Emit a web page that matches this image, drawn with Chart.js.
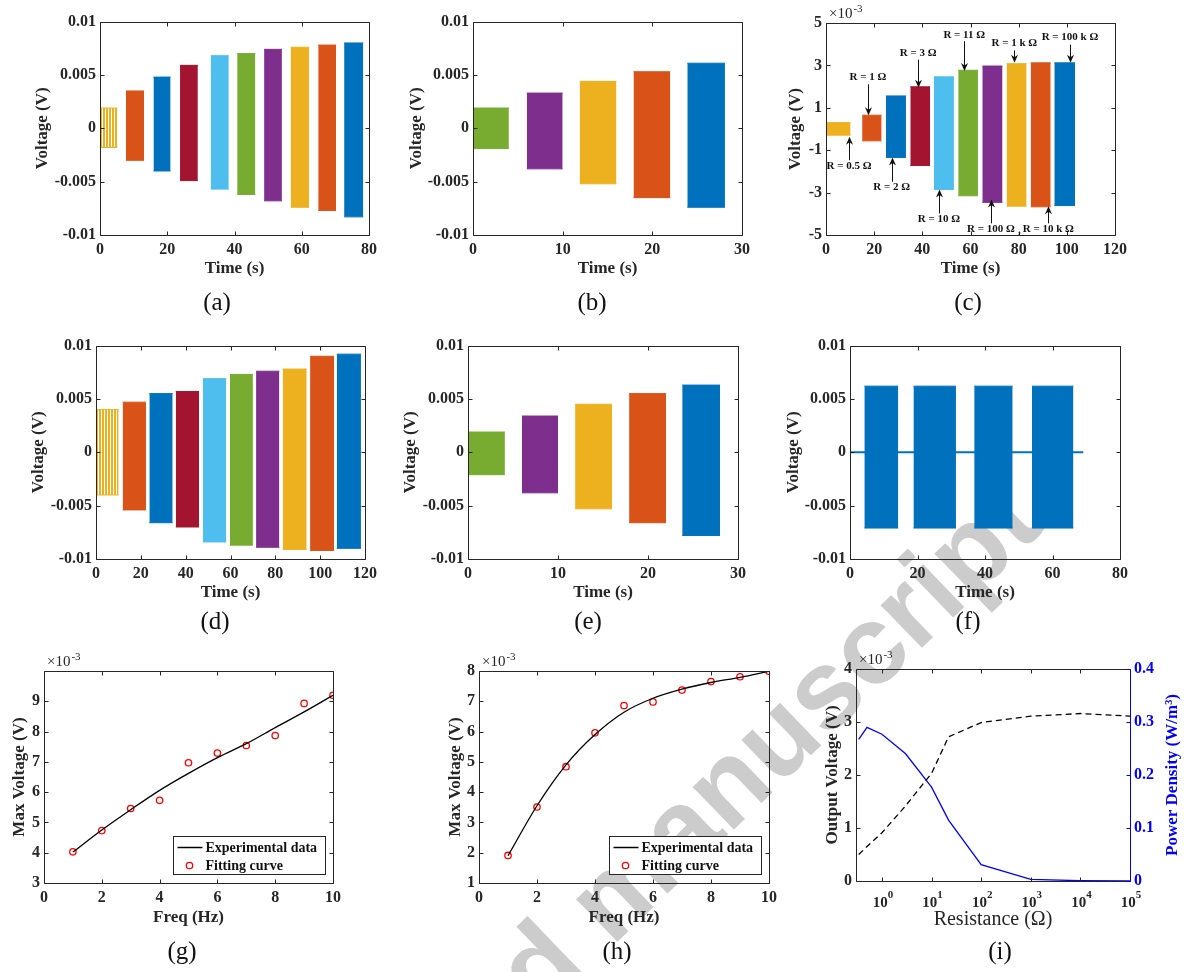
<!DOCTYPE html>
<html lang="en">
<head>
<meta charset="UTF-8">
<title>Output voltage figure</title>
<script src="https://cdn.jsdelivr.net/npm/chart.js"></script>
<style>
  body { margin: 0; background: #fff; }
  #fig { position: relative; width: 1188px; height: 972px; overflow: hidden; background: #fff; }
  #fig canvas { position: absolute; }
  .sub { position: absolute; font-family: 'Liberation Serif', serif; font-size: 25px; color: #111; transform: translate(-50%, -50%); }
</style>
</head>
<body>
<div id="fig">
  <canvas id="wm" width="1188" height="972" style="left:0;top:0"></canvas>
  <canvas id="ca"></canvas><canvas id="cb"></canvas><canvas id="cc"></canvas>
  <canvas id="cd"></canvas><canvas id="ce"></canvas><canvas id="cf"></canvas>
  <canvas id="cg"></canvas><canvas id="ch"></canvas><canvas id="ci"></canvas>
  <div class="sub" style="left:217px;top:302px">(a)</div>
  <div class="sub" style="left:592px;top:302px">(b)</div>
  <div class="sub" style="left:968px;top:302px">(c)</div>
  <div class="sub" style="left:215px;top:621px">(d)</div>
  <div class="sub" style="left:588px;top:621px">(e)</div>
  <div class="sub" style="left:968px;top:621px">(f)</div>
  <div class="sub" style="left:182px;top:951px">(g)</div>
  <div class="sub" style="left:617px;top:951px">(h)</div>
  <div class="sub" style="left:1000px;top:951px">(i)</div>
</div>
<script>
// ---- data ----
// (a) bursts: start/end time (s), max/min voltage (V)
const aStart = [0, 7.7, 15.9, 23.8, 32.9, 40.8, 48.8, 56.7, 64.9, 72.6];
const aEnd   = [5.1, 13.1, 21.0, 29.1, 38.3, 46.2, 54.1, 62.2, 70.2, 78.3];
const aMax   = [0.0019, 0.0035, 0.0048, 0.0059, 0.0068, 0.0070, 0.0074, 0.0076, 0.0078, 0.0080];
const aMin   = [-0.0018, -0.0030, -0.0040, -0.0049, -0.0057, -0.0062, -0.0068, -0.0074, -0.0077, -0.0083];

// (b)
const bStart = [0, 6.0, 11.9, 17.9, 23.9];
const bEnd   = [4.0, 10.0, 16.0, 22.0, 28.1];
const bMax   = [0.0019, 0.0033, 0.0044, 0.0053, 0.0061];
const bMin   = [-0.0019, -0.0038, -0.0052, -0.0065, -0.0074];

// (c) values in units of 1e-3 V
const cStart = [0, 15, 24.9, 35, 44.8, 54.9, 64.9, 75, 85, 94.8];
const cEnd   = [10.2, 23.1, 33.2, 43.2, 53.1, 63.1, 73.3, 83.3, 93.3, 103.4];
const cMax   = [0.30, 0.65, 1.56, 1.99, 2.46, 2.77, 2.97, 3.08, 3.12, 3.12];
const cMin   = [-0.29, -0.56, -1.34, -1.72, -2.85, -3.15, -3.46, -3.64, -3.67, -3.61];
const cNotes = ['R = 0.5 Ω', 'R = 1 Ω', 'R = 2 Ω', 'R = 3 Ω', 'R = 10 Ω', 'R = 11 Ω', 'R = 100 Ω', 'R = 1 k Ω', 'R = 10 k Ω', 'R = 100 k Ω', ','];
const cNoteT = [9.6, 17.4, 27.3, 38.3, 46.9, 57.4, 68.5, 78.2, 92.3, 101.3, 80.3];
const cNoteV = [-1.73, 2.43, -2.76, 3.60, -4.25, 4.45, -4.73, 4.03, -4.73, 4.34, -4.80];
const cArrowT = [9.7, 17.4, 27.3, 38.3, 46.9, 57.4, 68.5, 78.2, 92.3, 101.3, null];
const cTailV = [-1.47, 2.11, -2.49, 3.27, -3.98, 4.14, -4.45, 3.71, -4.45, 3.98, null];
const cTipV  = [-0.37, 0.65, -1.34, 1.95, -2.85, 2.74, -3.32, 3.12, -3.64, 3.12, null];

// (d)
const dStart = [0, 11.9, 23.8, 35.6, 47.7, 59.7, 71.4, 83.3, 95.5, 107.4];
const dEnd   = [10.1, 22.3, 34.2, 46.0, 58.1, 70.0, 81.8, 94.0, 106.2, 118.2];
const dMax   = [0.0040, 0.0047, 0.0055, 0.0057, 0.0069, 0.0073, 0.0076, 0.0078, 0.0090, 0.0092];
const dMin   = [-0.0040, -0.0054, -0.0066, -0.0070, -0.0084, -0.0087, -0.0089, -0.0091, -0.0092, -0.0090];

// (e)
const eStart = [0, 6.0, 11.9, 17.9, 23.8];
const eEnd   = [4.1, 10.0, 16.0, 22.0, 28.0];
const eMax   = [0.0019, 0.0034, 0.0045, 0.0055, 0.0063];
const eMin   = [-0.0021, -0.0038, -0.0053, -0.0066, -0.0078];

// (f)
const fStart = [4.25, 18.8, 36.8, 53.9];
const fEnd   = [14.3, 31.4, 48.2, 66.2];
const fMax   = [0.0062, 0.0062, 0.0062, 0.0062];
const fMin   = [-0.0071, -0.0071, -0.0071, -0.0071];
const fBaseT = [0, 69.1];
const fBaseV = [0, 0];

// (g) and (h), units of 1e-3 V
const freq = [1, 2, 3, 4, 5, 6, 7, 8, 9, 10];
const gLine   = [4.02, 4.75, 5.42, 6.06, 6.62, 7.14, 7.60, 8.13, 8.65, 9.20];
const gCircle = [4.03, 4.73, 5.46, 5.73, 6.97, 7.29, 7.54, 7.87, 8.93, 9.20];
const hLine   = [1.90, 3.55, 4.90, 5.90, 6.64, 7.10, 7.40, 7.62, 7.79, 7.99];
const hCircle = [1.91, 3.51, 4.84, 5.96, 6.86, 6.98, 7.37, 7.65, 7.81, 7.99];

// (i)
const resistance = [0.34, 0.5, 1, 3, 10, 22, 100, 1000, 10000, 100000];
const outVoltage = [0.50, 0.65, 0.91, 1.42, 2.03, 2.72, 2.99, 3.11, 3.16, 3.11];
const powerDens  = [0.267, 0.290, 0.277, 0.240, 0.177, 0.115, 0.031, 0.003, 0.0006, 0];

// tick values
const tTicks80 = [0, 20, 40, 60, 80];
const tTicks30 = [0, 10, 20, 30];
const tTicks120 = [0, 20, 40, 60, 80, 100, 120];
const vTicks = [-0.01, -0.005, 0, 0.005, 0.01];
const cTicks = [-5, -3, -1, 1, 3, 5];
const fTicks = [0, 2, 4, 6, 8, 10];
const gTicks = [3, 4, 5, 6, 7, 8, 9];
const hTicks = [1, 2, 3, 4, 5, 6, 7, 8];
const rTicks = [1, 10, 100, 1000, 10000, 100000];
const ivTicks = [0, 1, 2, 3, 4];
const ipTicks = [0, 0.1, 0.2, 0.3, 0.4];

// ---- styles ----
const M = { blue: '#0072BD', orange: '#D95319', yellow: '#EDB120', purple: '#7E2F8E',
            green: '#77AC30', cyan: '#4DBEEE', red: '#A2142F' };
const INK = '#262626';
const SERIF = "'Liberation Serif', 'Times New Roman', serif";

Chart.defaults.font.family = SERIF;
Chart.defaults.font.size = 16;
Chart.defaults.font.weight = 'bold';
Chart.defaults.color = INK;

function stripes(color) {
  const c = document.createElement('canvas');
  c.width = 3; c.height = 4;
  const g = c.getContext('2d');
  g.fillStyle = color;
  g.fillRect(0, 0, 2, 4);
  return g.createPattern(c, 'repeat');
}

const tenColors = [stripes(M.yellow), M.orange, M.blue, M.red, M.cyan, M.green, M.purple, M.yellow, M.orange, M.blue];
const cColors = [M.yellow, M.orange, M.blue, M.red, M.cyan, M.green, M.purple, M.yellow, M.orange, M.blue];
const fiveColors = [M.green, M.purple, M.yellow, M.orange, M.blue];

function bursts(start, end, max, min, colors) {
  const ds = [];
  start.forEach((s, i) => {
    const col = colors[i];
    const edge = typeof col === 'string' ? col : M.yellow;
    ds.push({ data: [{ x: s, y: max[i] }, { x: end[i], y: max[i] }], borderColor: edge, borderWidth: 1,
              pointRadius: 0, backgroundColor: col, fill: '+1' });
    ds.push({ data: [{ x: s, y: min[i] }, { x: end[i], y: min[i] }], borderColor: edge, borderWidth: 1,
              pointRadius: 0, fill: false });
  });
  return ds;
}

const fmt = v => String(+(+v).toFixed(4));

function axis(pos, min, max, ticks, title, size, extra) {
  const horiz = pos === 'bottom';
  const a = {
    type: 'linear', position: pos, min, max,
    afterBuildTicks: s => { s.ticks = ticks.map(v => ({ value: v })); },
    afterFit: s => { if (horiz) s.height = size; else s.width = size; },
    grid: { display: false, drawTicks: false },
    border: { display: false },
    ticks: { padding: horiz ? 5 : 4, autoSkip: false, maxRotation: 0, minRotation: 0, callback: fmt },
    title: title ? { display: true, text: title, font: { size: 17, weight: 'bold' }, padding: { top: 4, bottom: 4 } }
                 : { display: false }
  };
  return Object.assign(a, extra || {});
}

// ---- plugins ----
const matlabBox = {
  id: 'matlabBox',
  afterDatasetsDraw(chart) {
    const { ctx, chartArea: a, scales } = chart;
    const L = Math.round(a.left) + 0.5, R = Math.round(a.right) + 0.5;
    const T = Math.round(a.top) + 0.5, B = Math.round(a.bottom) + 0.5;
    const len = 4;
    ctx.save();
    ctx.lineWidth = 1;
    ctx.strokeStyle = INK;
    ctx.beginPath();
    scales.x.ticks.forEach(t => {
      const p = Math.round(scales.x.getPixelForValue(t.value)) + 0.5;
      ctx.moveTo(p, B); ctx.lineTo(p, B - len);
      ctx.moveTo(p, T); ctx.lineTo(p, T + len);
    });
    scales.y.ticks.forEach(t => {
      const p = Math.round(scales.y.getPixelForValue(t.value)) + 0.5;
      ctx.moveTo(L, p); ctx.lineTo(L + len, p);
      if (!scales.y2) { ctx.moveTo(R, p); ctx.lineTo(R - len, p); }
    });
    ctx.moveTo(R, B); ctx.lineTo(L, B); ctx.lineTo(L, T); ctx.lineTo(R, T);
    if (!scales.y2) ctx.lineTo(R, B);
    ctx.stroke();
    if (scales.y2) {
      ctx.strokeStyle = scales.y2.options.ticks.color;
      ctx.beginPath();
      ctx.moveTo(R, T); ctx.lineTo(R, B);
      scales.y2.ticks.forEach(t => {
        const p = Math.round(scales.y2.getPixelForValue(t.value)) + 0.5;
        ctx.moveTo(R, p); ctx.lineTo(R - len, p);
      });
      ctx.stroke();
    }
    ctx.restore();
  }
};

const exponent = {
  id: 'exponent',
  afterDraw(chart, args, o) {
    if (!o || !o.power) return;
    const { ctx, chartArea: a } = chart;
    ctx.save();
    ctx.fillStyle = INK;
    ctx.textBaseline = 'alphabetic';
    ctx.font = 'normal 15px ' + SERIF;
    const x = a.left + 3, y = a.top - 5;
    ctx.fillText('×10', x, y);
    const w = ctx.measureText('×10').width;
    ctx.font = 'normal 11px ' + SERIF;
    ctx.fillText(o.power, x + w + 1, y - 6);
    ctx.restore();
  }
};

// decade labels 10^n for the log axis, drawn at the scale's own tick pixels
const powTicks = {
  id: 'powTicks',
  afterDraw(chart, args, o) {
    if (!o || !o.base) return;
    const { ctx, chartArea: a, scales: { x } } = chart;
    ctx.save();
    ctx.fillStyle = INK;
    ctx.textBaseline = 'alphabetic';
    x.ticks.forEach(t => {
      const p = x.getPixelForValue(t.value);
      const e = String(Math.round(Math.log10(t.value)));
      ctx.font = 'bold 15px ' + SERIF;
      const w1 = ctx.measureText(o.base).width;
      ctx.font = 'bold 11px ' + SERIF;
      const w2 = ctx.measureText(e).width;
      const x0 = p - (w1 + w2) / 2 + 1;
      ctx.font = 'bold 15px ' + SERIF;
      ctx.fillText(o.base, x0, a.bottom + 26);
      ctx.font = 'bold 11px ' + SERIF;
      ctx.fillText(e, x0 + w1, a.bottom + 17);
    });
    ctx.restore();
  }
};

const boxLegend = {
  id: 'boxLegend',
  afterDraw(chart, args, o) {
    if (!o || !o.width) return;
    const { ctx, chartArea: a } = chart;
    const x = Math.round(a.right - o.right - o.width) + 0.5;
    const y = Math.round(a.bottom - o.bottom - o.height) + 0.5;
    ctx.save();
    ctx.fillStyle = '#fff';
    ctx.fillRect(x, y, o.width, o.height);
    ctx.strokeStyle = INK;
    ctx.lineWidth = 1;
    ctx.strokeRect(x, y, o.width, o.height);
    ctx.font = 'bold 14px ' + SERIF;
    ctx.textBaseline = 'middle';
    chart.data.datasets.forEach((d, i) => {
      const cy = y + 11 + i * 18;
      if (d.showLine === false) {
        ctx.strokeStyle = d.borderColor;
        ctx.lineWidth = 1.3;
        ctx.beginPath(); ctx.arc(x + 16, cy, 3.2, 0, Math.PI * 2); ctx.stroke();
      } else {
        ctx.strokeStyle = d.borderColor;
        ctx.lineWidth = 1.5;
        ctx.beginPath(); ctx.moveTo(x + 4, cy); ctx.lineTo(x + 29, cy); ctx.stroke();
      }
      ctx.fillStyle = '#111';
      ctx.fillText(d.label, x + 32, cy + 1);
    });
    ctx.restore();
  }
};

const arrowNotes = {
  id: 'arrowNotes',
  afterDatasetsDraw(chart, args, o) {
    if (!o || !o.text) return;
    const { ctx, scales: { x, y } } = chart;
    ctx.save();
    ctx.fillStyle = '#111';
    ctx.strokeStyle = '#111';
    ctx.lineWidth = 1;
    ctx.font = 'bold 11px ' + SERIF;
    ctx.textAlign = 'center';
    ctx.textBaseline = 'middle';
    o.text.forEach((t, i) => {
      ctx.fillText(t, x.getPixelForValue(o.textT[i]), y.getPixelForValue(o.textV[i]));
      if (o.arrowT[i] == null) return;
      const ax = Math.round(x.getPixelForValue(o.arrowT[i])) + 0.5;
      const y0 = y.getPixelForValue(o.tailV[i]), y1 = y.getPixelForValue(o.tipV[i]);
      const dir = Math.sign(y1 - y0);
      ctx.beginPath(); ctx.moveTo(ax, y0); ctx.lineTo(ax, y1 - dir * 4); ctx.stroke();
      ctx.beginPath();
      ctx.moveTo(ax, y1);
      ctx.lineTo(ax - 3.5, y1 - dir * 8);
      ctx.lineTo(ax, y1 - dir * 5.5);
      ctx.lineTo(ax + 3.5, y1 - dir * 8);
      ctx.closePath(); ctx.fill();
    });
    ctx.restore();
  }
};

const sideTitle = {
  id: 'sideTitle',
  afterDraw(chart, args, o) {
    if (!o || !o.text) return;
    const { ctx, chartArea: a } = chart;
    ctx.save();
    ctx.translate(a.right + o.offset, (a.top + a.bottom) / 2);
    ctx.rotate(-Math.PI / 2);
    ctx.fillStyle = o.color;
    ctx.font = 'bold 17px ' + SERIF;
    ctx.textAlign = 'center';
    ctx.textBaseline = 'middle';
    ctx.fillText(o.text, 0, 0);
    ctx.restore();
  }
};

// ---- panel builder ----
function makeChart(id, L, datasets, scales, plugins) {
  const cv = document.getElementById(id);
  const padR = L.padR == null ? 20 : L.padR, padT = L.padT == null ? 12 : L.padT;
  cv.width = (L.r - L.l) + L.yW + padR + (L.y2W || 0);
  cv.height = (L.b - L.t) + padT + L.xH;
  cv.style.left = (L.l - L.yW) + 'px';
  cv.style.top = (L.t - padT) + 'px';
  return new Chart(cv, {
    type: 'line',
    data: { datasets },
    options: {
      responsive: false,
      animation: false,
      events: [],
      layout: { padding: { top: padT, right: padR, left: 0, bottom: 0 } },
      plugins: Object.assign({ legend: { display: false }, tooltip: { enabled: false } }, plugins || {}),
      scales
    },
    plugins: [matlabBox, exponent, powTicks, boxLegend, arrowNotes, sideTitle]
  });
}

const pts = (xs, ys) => xs.map((x, i) => ({ x, y: ys[i] }));

// (a)
makeChart('ca', { l: 100, t: 20, r: 369, b: 235, yW: 72, xH: 48 },
  bursts(aStart, aEnd, aMax, aMin, tenColors),
  { x: axis('bottom', 0, 80, tTicks80, 'Time (s)', 48), y: axis('left', -0.01, 0.01, vTicks, 'Voltage (V)', 72) });

// (b)
makeChart('cb', { l: 473, t: 20, r: 742, b: 235, yW: 71, xH: 48 },
  bursts(bStart, bEnd, bMax, bMin, fiveColors),
  { x: axis('bottom', 0, 30, tTicks30, 'Time (s)', 48), y: axis('left', -0.01, 0.01, vTicks, 'Voltage (V)', 71) });

// (c)
makeChart('cc', { l: 826, t: 23, r: 1115, b: 235, yW: 45, xH: 48, padT: 22 },
  bursts(cStart, cEnd, cMax, cMin, cColors),
  { x: axis('bottom', 0, 120, tTicks120, 'Time (s)', 48), y: axis('left', -5, 5, cTicks, 'Voltage (V)', 45) },
  { exponent: { power: '-3' },
    arrowNotes: { text: cNotes, textT: cNoteT, textV: cNoteV, arrowT: cArrowT, tailV: cTailV, tipV: cTipV } });

// (d)
makeChart('cd', { l: 96, t: 344, r: 365, b: 559, yW: 72, xH: 48 },
  bursts(dStart, dEnd, dMax, dMin, tenColors),
  { x: axis('bottom', 0, 120, tTicks120, 'Time (s)', 48), y: axis('left', -0.01, 0.01, vTicks, 'Voltage (V)', 72) });

// (e)
makeChart('ce', { l: 468, t: 344, r: 738, b: 559, yW: 72, xH: 48 },
  bursts(eStart, eEnd, eMax, eMin, fiveColors),
  { x: axis('bottom', 0, 30, tTicks30, 'Time (s)', 48), y: axis('left', -0.01, 0.01, vTicks, 'Voltage (V)', 72) });

// (f)
makeChart('cf', { l: 850, t: 344, r: 1120, b: 559, yW: 71, xH: 48 },
  bursts(fStart, fEnd, fMax, fMin, fStart.map(() => M.blue)).concat([
    { data: pts(fBaseT, fBaseV), borderColor: M.blue, borderWidth: 2, pointRadius: 0, fill: false }
  ]),
  { x: axis('bottom', 0, 80, tTicks80, 'Time (s)', 48), y: axis('left', -0.01, 0.01, vTicks, 'Voltage (V)', 71) });

// (g) and (h)
function fitSets(line, circ) {
  return [
    { label: 'Experimental data', data: pts(freq, line), borderColor: '#000', borderWidth: 1.3, pointRadius: 0,
      cubicInterpolationMode: 'monotone', fill: false },
    { label: 'Fitting curve', data: pts(freq, circ), showLine: false, borderColor: '#FF0000', backgroundColor: 'rgba(0,0,0,0)',
      pointRadius: 3.2, pointBorderWidth: 1.3, pointStyle: 'circle' }
  ];
}
const fitLegend = { width: 152, height: 38, right: 8, bottom: 9 };

makeChart('cg', { l: 44, t: 671, r: 333, b: 883, yW: 39, xH: 49, padT: 20 },
  fitSets(gLine, gCircle),
  { x: axis('bottom', 0, 10, fTicks, 'Freq (Hz)', 49), y: axis('left', 3, 10, gTicks, 'Max Voltage (V)', 39) },
  { exponent: { power: '-3' }, boxLegend: fitLegend });

makeChart('ch', { l: 479, t: 671, r: 769, b: 883, yW: 38, xH: 49, padT: 20 },
  fitSets(hLine, hCircle),
  { x: axis('bottom', 0, 10, fTicks, 'Freq (Hz)', 49), y: axis('left', 1, 8, hTicks, 'Max Voltage (V)', 38) },
  { exponent: { power: '-3' }, boxLegend: fitLegend });

// (i)
makeChart('ci', { l: 856, t: 669, r: 1130, b: 881, yW: 38, y2W: 57, xH: 55, padT: 20, padR: 0 },
  [
    { data: pts(resistance, outVoltage), yAxisID: 'y', borderColor: '#000', borderWidth: 1.3, borderDash: [6, 4],
      pointRadius: 0, fill: false },
    { data: pts(resistance, powerDens), yAxisID: 'y2', borderColor: '#0000FF', borderWidth: 1.3,
      pointRadius: 0, fill: false }
  ],
  {
    x: {
      type: 'logarithmic', position: 'bottom', min: 0.34, max: 100000,
      afterBuildTicks: s => { s.ticks = rTicks.map(v => ({ value: v })); },
      afterFit: s => { s.height = 55; },
      grid: { display: false, drawTicks: false },
      border: { display: false },
      ticks: { display: false },
      title: { display: true, text: 'Resistance (Ω)', font: { size: 20, weight: 'normal' }, padding: { top: 2, bottom: 4 } }
    },
    y: axis('left', 0, 4, ivTicks, 'Output Voltage (V)', 38),
    y2: axis('right', 0, 0.4, ipTicks, null, 57, {
      ticks: { padding: 4, autoSkip: false, color: '#0000FF', callback: fmt }
    })
  },
  { exponent: { power: '-3' }, powTicks: { base: '10' },
    sideTitle: { text: 'Power Density (W/m³)', color: '#0000FF', offset: 43 } });

// watermark behind the panels
(function () {
  const g = document.getElementById('wm').getContext('2d');
  g.save();
  g.translate(1046, 528);
  g.rotate(-44 * Math.PI / 180);
  g.fillStyle = '#cccccc';
  g.font = "bold 112px 'Liberation Sans', Arial, sans-serif";
  g.textAlign = 'right';
  g.textBaseline = 'alphabetic';
  g.fillText('Accepted manuscript', 0, 0);
  g.restore();
})();
</script>
</body>
</html>
